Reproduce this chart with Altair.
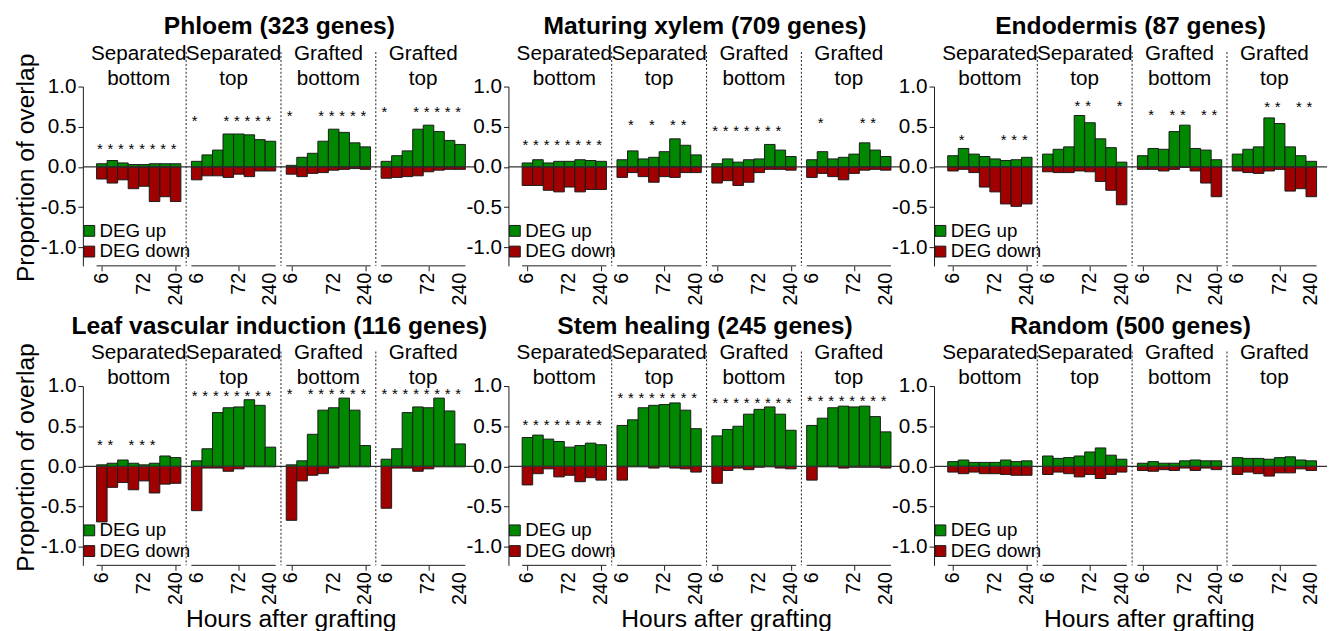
import altair as alt
import pandas as pd

FONT = "Liberation Sans"
GREEN = "#008800"
RED = "#a00000"
INK = "#1a1a1a"

times = ["6", "12", "24", "48", "72", "120", "168", "240"]
tick_index = [0, 4, 7]  # time points that carry a tick label: 6, 72, 240
conditions = ["Separated bottom", "Separated top", "Grafted bottom", "Grafted top"]
header_lines = ["Separated\nbottom", "Separated\ntop", "Grafted\nbottom", "Grafted\ntop"]
directions = ["DEG up", "DEG down"]

panel_names = [
    "Phloem (323 genes)",
    "Maturing xylem (709 genes)",
    "Endodermis (87 genes)",
    "Leaf vascular induction (116 genes)",
    "Stem healing (245 genes)",
    "Random (500 genes)",
]

# ---- Phloem ----
phloem_up = [
    [0.04, 0.08, 0.05, 0.03, 0.03, 0.04, 0.04, 0.04],
    [0.07, 0.15, 0.21, 0.41, 0.41, 0.40, 0.34, 0.32],
    [0.02, 0.12, 0.17, 0.32, 0.47, 0.43, 0.30, 0.25],
    [0.07, 0.14, 0.20, 0.47, 0.52, 0.44, 0.33, 0.28],
]
phloem_down = [
    [-0.15, -0.20, -0.16, -0.27, -0.24, -0.43, -0.37, -0.43],
    [-0.16, -0.11, -0.11, -0.13, -0.09, -0.12, -0.05, -0.05],
    [-0.09, -0.12, -0.08, -0.07, -0.04, -0.03, -0.02, -0.03],
    [-0.14, -0.13, -0.12, -0.11, -0.06, -0.04, -0.03, -0.03],
]
phloem_stars = [[0, 1, 2, 3, 4, 5, 6, 7], [0, 3, 4, 5, 6, 7], [0, 3, 4, 5, 6, 7], [0, 3, 4, 5, 6, 7]]
phloem_star_y = [0.27, 0.62, 0.68, 0.73]

# ---- Maturing xylem ----
xylem_up = [
    [0.05, 0.09, 0.05, 0.07, 0.07, 0.09, 0.08, 0.07],
    [0.09, 0.20, 0.10, 0.12, 0.19, 0.35, 0.27, 0.15],
    [0.04, 0.10, 0.06, 0.09, 0.10, 0.28, 0.21, 0.13],
    [0.09, 0.19, 0.10, 0.12, 0.16, 0.30, 0.21, 0.13],
]
xylem_down = [
    [-0.23, -0.23, -0.29, -0.31, -0.25, -0.31, -0.28, -0.28],
    [-0.13, -0.07, -0.12, -0.19, -0.12, -0.13, -0.07, -0.07],
    [-0.20, -0.17, -0.23, -0.19, -0.07, -0.03, -0.03, -0.04],
    [-0.13, -0.08, -0.12, -0.16, -0.08, -0.04, -0.03, -0.04],
]
xylem_stars = [[0, 1, 2, 3, 4, 5, 6, 7], [1, 3, 5, 6], [0, 1, 2, 3, 4, 5, 6], [1, 5, 6]]
xylem_star_y = [0.32, 0.57, 0.50, 0.59]

# ---- Endodermis ----
endo_up = [
    [0.14, 0.23, 0.16, 0.13, 0.10, 0.08, 0.09, 0.12],
    [0.16, 0.22, 0.25, 0.64, 0.55, 0.35, 0.24, 0.06],
    [0.14, 0.23, 0.22, 0.44, 0.52, 0.23, 0.21, 0.09],
    [0.16, 0.22, 0.25, 0.61, 0.54, 0.25, 0.14, 0.07],
]
endo_down = [
    [-0.05, -0.03, -0.07, -0.25, -0.31, -0.46, -0.49, -0.46],
    [-0.06, -0.07, -0.07, -0.05, -0.06, -0.18, -0.29, -0.47],
    [-0.03, -0.03, -0.05, -0.03, -0.005, -0.05, -0.20, -0.37],
    [-0.05, -0.07, -0.08, -0.05, -0.03, -0.30, -0.27, -0.37],
]
endo_stars = [[1, 5, 6, 7], [3, 4, 7], [1, 3, 4, 6, 7], [3, 4, 6, 7]]
endo_star_y = [0.38, 0.81, 0.69, 0.79]

# ---- Leaf vascular induction ----
leaf_up = [
    [0.02, 0.04, 0.08, 0.04, 0.02, 0.04, 0.13, 0.11],
    [0.07, 0.22, 0.67, 0.73, 0.74, 0.83, 0.76, 0.24],
    [0.02, 0.07, 0.40, 0.70, 0.73, 0.85, 0.70, 0.26],
    [0.09, 0.22, 0.67, 0.74, 0.73, 0.85, 0.69, 0.28],
]
leaf_down = [
    [-0.69, -0.26, -0.20, -0.29, -0.18, -0.33, -0.22, -0.21],
    [-0.55, -0.02, -0.02, -0.06, -0.03, -0.005, -0.005, -0.005],
    [-0.67, -0.18, -0.11, -0.09, -0.02, -0.005, -0.005, -0.005],
    [-0.52, -0.02, -0.02, -0.06, -0.03, -0.005, -0.005, -0.005],
]
leaf_stars = [[0, 1, 3, 4, 5], [0, 1, 2, 3, 4, 5, 6, 7], [0, 2, 3, 4, 5, 6, 7], [0, 1, 2, 3, 4, 5, 6, 7]]
leaf_star_y = [0.31, 0.93, 0.95, 0.95]

# ---- Stem healing ----
stem_up = [
    [0.36, 0.39, 0.34, 0.31, 0.24, 0.26, 0.29, 0.27],
    [0.51, 0.58, 0.73, 0.76, 0.77, 0.79, 0.70, 0.47],
    [0.38, 0.46, 0.50, 0.65, 0.71, 0.74, 0.65, 0.45],
    [0.51, 0.60, 0.73, 0.75, 0.74, 0.75, 0.62, 0.43],
]
stem_down = [
    [-0.23, -0.09, -0.03, -0.13, -0.11, -0.19, -0.14, -0.17],
    [-0.17, -0.005, -0.005, -0.02, -0.005, -0.02, -0.03, -0.07],
    [-0.21, -0.05, -0.02, -0.04, -0.01, -0.005, -0.02, -0.03],
    [-0.17, -0.005, -0.005, -0.02, -0.01, -0.01, -0.01, -0.02],
]
stem_stars = [[0, 1, 2, 3, 4, 5, 6, 7]] * 4
stem_star_y = [0.56, 0.90, 0.84, 0.86]

# ---- Random ----
random_up = [
    [0.06, 0.08, 0.05, 0.05, 0.05, 0.08, 0.06, 0.07],
    [0.13, 0.10, 0.11, 0.13, 0.18, 0.23, 0.14, 0.09],
    [0.04, 0.06, 0.04, 0.04, 0.07, 0.08, 0.07, 0.07],
    [0.11, 0.10, 0.10, 0.09, 0.11, 0.12, 0.08, 0.07],
]
random_down = [
    [-0.07, -0.09, -0.07, -0.09, -0.09, -0.10, -0.11, -0.11],
    [-0.10, -0.07, -0.09, -0.13, -0.10, -0.15, -0.10, -0.07],
    [-0.05, -0.06, -0.04, -0.05, -0.02, -0.05, -0.02, -0.04],
    [-0.10, -0.07, -0.09, -0.12, -0.08, -0.08, -0.03, -0.05],
]
random_stars = [[], [], [], []]
random_star_y = [0.0, 0.0, 0.0, 0.0]

# ---- layout constants (styling only) ----
STRIDE = 9          # band slots per condition block (8 bars + 1 gap)
NBARS = len(times)
X_DOMAIN = [-1.3, 36.0]
Y_DOMAIN = [-1.23, 1.0]
W, H = 399, 182

y_label_expr = "datum.value < 0 ? '-' + format(-datum.value, '.1f') : format(datum.value, '.1f')"
x_tick_values = [ci * STRIDE + ti + 0.5 for ci in range(len(conditions)) for ti in tick_index]


def panel(name, up, down, stars, star_y, first_col, bottom_row, ytitle_y, xtitle_x):
    rows = []
    for ci, cond in enumerate(conditions):
        for ti, t in enumerate(times):
            rows.append(dict(cond=cond, ci=ci, ti=ti, dir="DEG up", v=up[ci][ti]))
            rows.append(dict(cond=cond, ci=ci, ti=ti, dir="DEG down", v=down[ci][ti]))
    df = pd.DataFrame(rows)

    star_rows = [dict(ci=ci, ti=ti, sy=star_y[ci], s="*") for ci in range(len(conditions)) for ti in stars[ci]]
    sdf = pd.DataFrame(star_rows if star_rows else [dict(ci=0, ti=0, sy=0.0, s="")])

    tdf = pd.DataFrame([dict(ci=ci, ti=ti, lab=times[ti]) for ci in range(len(conditions)) for ti in tick_index])
    hdf = pd.DataFrame(dict(ci=list(range(len(conditions))), h=header_lines))
    zdf = pd.DataFrame(dict(z=[0.0]))

    xscale = alt.Scale(domain=X_DOMAIN, nice=False, zero=False)
    yscale = alt.Scale(domain=Y_DOMAIN, nice=False, zero=False)
    xtitle = "Hours after grafting" if bottom_row else None
    ytitle = "Proportion of overlap" if first_col else None

    bars = alt.Chart(df).transform_calculate(
        x0="datum.ci * %d + datum.ti" % STRIDE,
        x1="datum.ci * %d + datum.ti + 1" % STRIDE,
    ).mark_bar(stroke=INK, strokeWidth=1, opacity=1).encode(
        x=alt.X("x0:Q", scale=xscale, title=xtitle, axis=alt.Axis(
            values=x_tick_values, labels=False, domain=False, grid=False,
            tickSize=5, tickColor=INK,
            titleFontSize=25, titleFontWeight="normal", titleFont=FONT, titlePadding=37,
            titleColor="black", titleX=xtitle_x)),
        x2="x1:Q",
        y=alt.Y("v:Q", scale=yscale, title=ytitle, axis=alt.Axis(
            values=[-1.0, -0.5, 0.0, 0.5, 1.0], labelExpr=y_label_expr, grid=False,
            labelOverlap=False, labelFlush=False,
            tickSize=5, tickColor=INK, domainColor=INK, labelFontSize=21, labelPadding=2,
            labelColor="black", labelFont=FONT,
            titleFontSize=25, titleFontWeight="normal", titleFont=FONT, titlePadding=2,
            titleColor="black", titleY=ytitle_y)),
        y2=alt.datum(0),
        color=alt.Color("dir:N", scale=alt.Scale(domain=directions, range=[GREEN, RED]),
                        legend=alt.Legend(orient="none", legendX=-3, legendY=137, title=None,
                                          symbolType="square", symbolSize=121,
                                          symbolStrokeColor=INK, symbolStrokeWidth=1,
                                          labelFontSize=19, labelFont=FONT, labelColor="black",
                                          labelOffset=1, rowPadding=1, padding=0)),
    )

    tick_labels = alt.Chart(tdf).transform_calculate(
        xc="datum.ci * %d + datum.ti + 0.5" % STRIDE
    ).mark_text(fontSize=20, font=FONT, color="black", angle=270, align="right",
                baseline="middle").encode(
        x=alt.X("xc:Q", scale=xscale, title=xtitle),
        y=alt.value(H + 7),
        text="lab:N",
    )

    star_layer = alt.Chart(sdf).transform_calculate(
        xc="datum.ci * %d + datum.ti + 0.5" % STRIDE
    ).mark_text(fontSize=15, font=FONT, color="black", baseline="middle", dy=4, dx=-2).encode(
        x=alt.X("xc:Q", scale=xscale, title=xtitle),
        y=alt.Y("sy:Q", scale=yscale, title=ytitle),
        text="s:N",
    )

    headers = alt.Chart(hdf).transform_calculate(
        xc="datum.ci * %d + %f" % (STRIDE, NBARS / 2)
    ).mark_text(fontSize=21, font=FONT, color="black", baseline="alphabetic",
                lineBreak="\n", lineHeight=25, align="center").encode(
        x=alt.X("xc:Q", scale=xscale, title=xtitle),
        y=alt.value(-27),
        text="h:N",
    )

    dividers = alt.Chart(hdf).transform_filter("datum.ci > 0").transform_calculate(
        xd="datum.ci * %d - 0.5" % STRIDE
    ).mark_rule(color=INK, strokeWidth=1, strokeDash=[2, 2]).encode(
        x=alt.X("xd:Q", scale=xscale, title=xtitle),
        y=alt.value(-35),
        y2=alt.value(H),
    )

    axis_segments = alt.Chart(hdf).transform_calculate(
        xs="datum.ci * %d" % STRIDE,
        xe="datum.ci * %d + %d" % (STRIDE, NBARS),
    ).mark_rule(color=INK, strokeWidth=1).encode(
        x=alt.X("xs:Q", scale=xscale, title=xtitle),
        x2="xe:Q",
        y=alt.value(H),
    )

    zero = alt.Chart(zdf).mark_rule(color="#333333", strokeWidth=1.2).encode(
        y=alt.Y("z:Q", scale=yscale, title=ytitle),
    )

    return alt.layer(bars, zero, star_layer, tick_labels, headers, dividers, axis_segments).properties(
        width=W, height=H,
        title=alt.Title(name, fontSize=25, fontWeight="bold", font=FONT, anchor="middle",
                        frame="group", offset=4, color="black"),
    )


p1 = panel(panel_names[0], phloem_up, phloem_down, phloem_stars, phloem_star_y, True, False, 82, 200)
p2 = panel(panel_names[1], xylem_up, xylem_down, xylem_stars, xylem_star_y, False, False, 82, 200)
p3 = panel(panel_names[2], endo_up, endo_down, endo_stars, endo_star_y, False, False, 82, 200)
p4 = panel(panel_names[3], leaf_up, leaf_down, leaf_stars, leaf_star_y, True, True, 72, 211)
p5 = panel(panel_names[4], stem_up, stem_down, stem_stars, stem_star_y, False, True, 72, 221)
p6 = panel(panel_names[5], random_up, random_down, random_stars, random_star_y, False, True, 72, 218)

row1 = alt.hconcat(p1, p2, p3, spacing=33, bounds="flush").resolve_scale(color="independent")
row2 = alt.hconcat(p4, p5, p6, spacing=33, bounds="flush").resolve_scale(color="independent")

chart = alt.vconcat(row1, row2, spacing=7).resolve_scale(
    color="independent"
).properties(
    padding={"left": 5, "top": 2, "right": 5, "bottom": 0}
).configure(font=FONT).configure_view(stroke=None)

chart.save("out.html", embed_options={"renderer": "svg", "actions": False})
